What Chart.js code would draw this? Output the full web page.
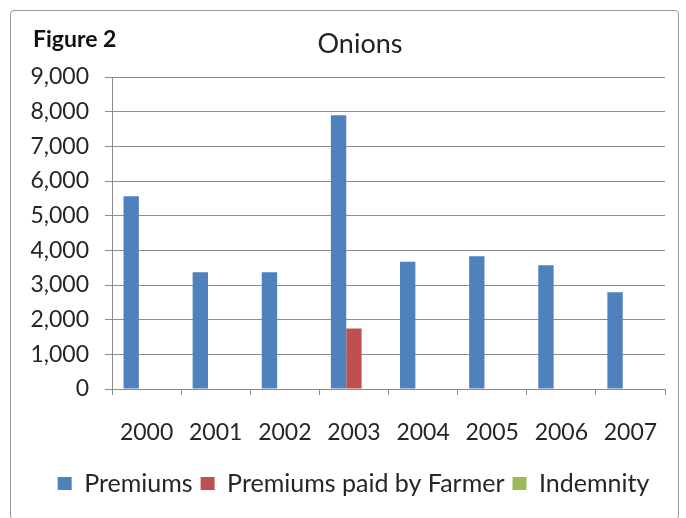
<!DOCTYPE html>
<html>
<head>
<meta charset="utf-8">
<script src="https://cdn.jsdelivr.net/npm/chart.js@4/dist/chart.umd.min.js"></script>
<style>
    html, body { margin: 0; padding: 0; background: #fff; overflow: hidden; }
    #wrap { position: relative; width: 686px; height: 518px; }
    #frame {
        position: absolute; left: 10px; top: 10px; width: 669px; height: 510px;
        border: 1px solid #9a9a9a; border-radius: 4px; box-sizing: border-box;
    }
    #figLabel {
        position: absolute; left: 33px; top: 24px;
        font: bold 23px Lato, sans-serif; color: #111;
    }
    #title {
        position: absolute; left: 260px; width: 200px; top: 26px; text-align: center;
        font: 27px Lato, sans-serif; color: #222;
    }
    #chart { position: absolute; left: 0; top: 0; }
</style>
</head>
<body>
<div id="wrap">
    <div id="frame"></div>
    <canvas id="chart" width="686" height="518"></canvas>
    <div id="figLabel">Figure 2</div>
    <div id="title">Onions</div>
</div>
<script>
// Dữ liệu biểu đồ
const years = ['2000', '2001', '2002', '2003', '2004', '2005', '2006', '2007'];
const premiums = [5560, 3370, 3370, 7900, 3670, 3830, 3570, 2790];
const premiumsFarmer = [0, 0, 0, 1745, 0, 0, 0, 0];
const indemnity = [0, 0, 0, 0, 0, 0, 0, 0];
const yTicks = [0, 1000, 2000, 3000, 4000, 5000, 6000, 7000, 8000, 9000];

const gridColor = '#8c8c8c';
const textColor = '#262626';

// Dời chú thích sang phải cho giống hình gốc
const shiftLegend = {
    id: 'shiftLegend',
    afterLayout(chart) {
        chart.legend.left += 21;
        chart.legend.right += 21;
    }
};

const ctx = document.getElementById('chart').getContext('2d');
const chart = new Chart(ctx, {
    type: 'bar',
    data: {
        labels: years,
        datasets: [
            { label: 'Premiums', data: premiums, backgroundColor: '#4F81BD' },
            { label: 'Premiums paid by Farmer', data: premiumsFarmer, backgroundColor: '#C0504D' },
            { label: 'Indemnity', data: indemnity, backgroundColor: '#9BBB59' }
        ]
    },
    options: {
        responsive: false,
        animation: false,
        devicePixelRatio: 1,
        layout: { padding: { left: 0, right: 21, top: 77, bottom: 12 } },
        datasets: { bar: { barPercentage: 1, categoryPercentage: 0.667, borderWidth: 0 } },
        scales: {
            x: {
                offset: true,
                grid: { offset: true, drawOnChartArea: false, color: gridColor, tickLength: 6 },
                border: { color: gridColor },
                ticks: { color: textColor, font: { family: 'Lato', size: 23 }, padding: 24 },
                afterFit: (scale) => { scale.height = 74; }
            },
            y: {
                min: 0,
                max: 9000,
                afterBuildTicks: (scale) => { scale.ticks = yTicks.map(v => ({ value: v })); },
                grid: { color: gridColor, tickLength: 7 },
                border: { color: gridColor },
                ticks: {
                    color: textColor,
                    font: { family: 'Lato', size: 23 },
                    padding: 16,
                    callback: (v) => v.toLocaleString('en-US')
                },
                afterFit: (scale) => { scale.width = 112; }
            }
        },
        plugins: {
            legend: {
                position: 'bottom',
                labels: {
                    color: textColor,
                    font: { family: 'Lato', size: 25 },
                    boxWidth: 14,
                    boxHeight: 13,
                    padding: 8
                }
            },
            tooltip: { enabled: false }
        }
    },
    plugins: [shiftLegend]
});
</script>
</body>
</html>
